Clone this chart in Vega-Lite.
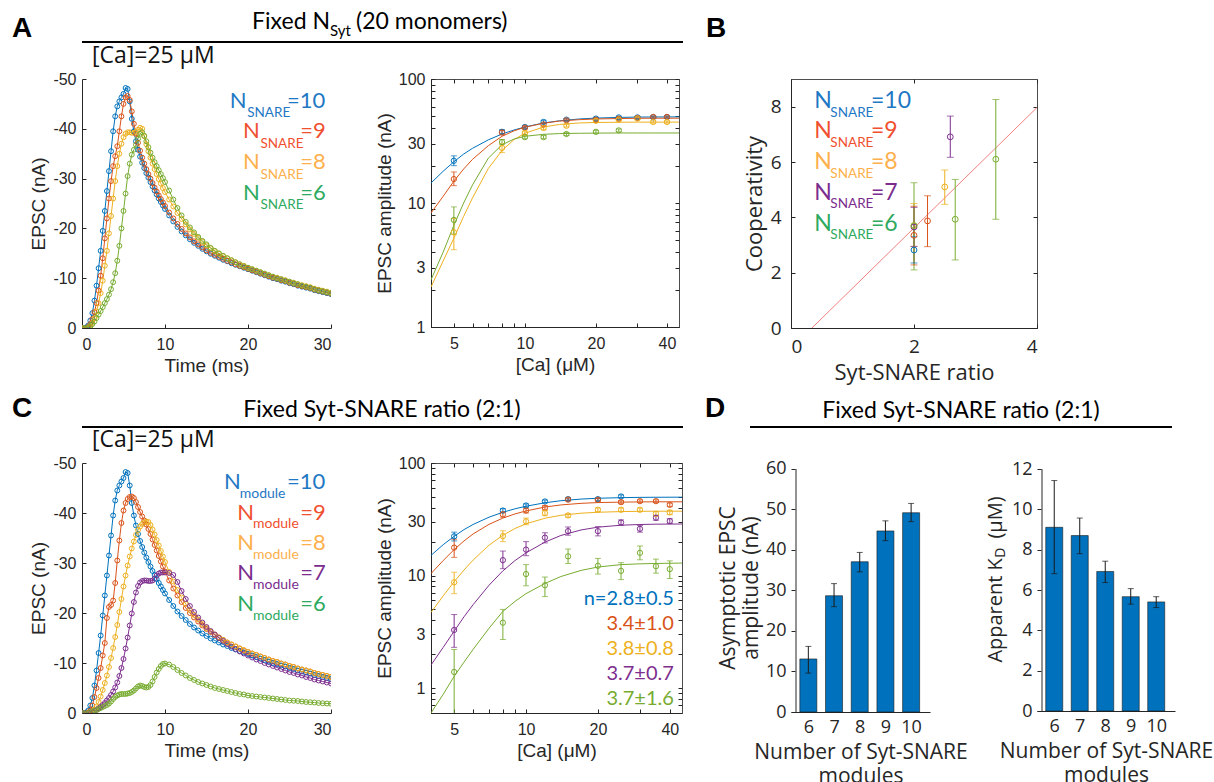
{
"$schema":"https://vega.github.io/schema/vega-lite/v6.json",
"background":"white",
"padding":{"left":12,"top":2,"right":0,"bottom":0},
"autosize":{"type":"pad"},
"config":{
"view":{"stroke":null},
"axis":{"grid":false,"domainColor":"#262626","tickColor":"#262626","labelColor":"#262626","titleColor":"#262626","labelFont":"Liberation Sans","titleFont":"Liberation Sans","labelFontSize":16,"titleFontSize":19,"titleFontWeight":"normal","tickSize":-4,"domainWidth":1,"tickWidth":1,"labelOverlap":false},
"axisX":{"labelPadding":12},
"axisY":{"labelPadding":10}
},
"datasets":{
"tA":[
{"t":0,"n10":0,"n9":0,"n8":0,"n6":0},
{"t":0.25,"n10":0,"n9":0,"n8":0,"n6":0},
{"t":0.5,"n10":-0.1,"n9":0,"n8":0,"n6":0},
{"t":0.75,"n10":-0.5,"n9":-0.2,"n8":0,"n6":-0.1},
{"t":1,"n10":-1.5,"n9":-0.8,"n8":-0.3,"n6":-0.4},
{"t":1.25,"n10":-3,"n9":-1.8,"n8":-1,"n6":-0.8},
{"t":1.5,"n10":-5.5,"n9":-3.2,"n8":-2,"n6":-1.3},
{"t":1.75,"n10":-8.5,"n9":-5,"n8":-3.3,"n6":-2},
{"t":2,"n10":-12,"n9":-7.5,"n8":-5,"n6":-2.7},
{"t":2.25,"n10":-15.5,"n9":-10.5,"n8":-7,"n6":-3.4},
{"t":2.5,"n10":-19.5,"n9":-14,"n8":-9.5,"n6":-4.2},
{"t":2.75,"n10":-23.5,"n9":-18,"n8":-12.5,"n6":-5},
{"t":3,"n10":-27.5,"n9":-22,"n8":-15.5,"n6":-5.8},
{"t":3.25,"n10":-31.5,"n9":-26,"n8":-19,"n6":-6.7},
{"t":3.5,"n10":-35.5,"n9":-29.5,"n8":-22.5,"n6":-7.8},
{"t":3.75,"n10":-39.5,"n9":-32.5,"n8":-26,"n6":-9.2},
{"t":4,"n10":-42.5,"n9":-34.5,"n8":-29.5,"n6":-11},
{"t":4.25,"n10":-44.5,"n9":-36.5,"n8":-32.5,"n6":-13.5},
{"t":4.5,"n10":-45.5,"n9":-39.5,"n8":-35,"n6":-16.5},
{"t":4.75,"n10":-46.3,"n9":-42.5,"n8":-37,"n6":-20},
{"t":5,"n10":-47,"n9":-45,"n8":-38.3,"n6":-23.5},
{"t":5.25,"n10":-48.2,"n9":-46.3,"n8":-39,"n6":-27},
{"t":5.5,"n10":-48,"n9":-46.6,"n8":-39.3,"n6":-30.5},
{"t":5.75,"n10":-45.5,"n9":-45.8,"n8":-39.3,"n6":-33},
{"t":6,"n10":-42,"n9":-43.5,"n8":-39.2,"n6":-34.8},
{"t":6.25,"n10":-39.5,"n9":-41,"n8":-39.2,"n6":-35.8},
{"t":6.5,"n10":-37.5,"n9":-39,"n8":-39.4,"n6":-36.8},
{"t":6.75,"n10":-35.8,"n9":-37.2,"n8":-39.8,"n6":-38},
{"t":7,"n10":-34.4,"n9":-35.6,"n8":-40.2,"n6":-39},
{"t":7.25,"n10":-33.2,"n9":-34.2,"n8":-40,"n6":-39.3},
{"t":7.5,"n10":-32.1,"n9":-33,"n8":-38.5,"n6":-38.6},
{"t":7.75,"n10":-31.1,"n9":-31.9,"n8":-36.9,"n6":-37.5},
{"t":8,"n10":-30.2,"n9":-30.9,"n8":-35.5,"n6":-36.3},
{"t":8.25,"n10":-29.3,"n9":-30,"n8":-34.2,"n6":-35.2},
{"t":8.5,"n10":-28.4,"n9":-29.1,"n8":-33,"n6":-34.2},
{"t":8.75,"n10":-27.6,"n9":-28.2,"n8":-31.9,"n6":-33.3},
{"t":9,"n10":-26.8,"n9":-27.4,"n8":-30.9,"n6":-32.5},
{"t":9.25,"n10":-26,"n9":-26.6,"n8":-29.9,"n6":-31.7},
{"t":9.5,"n10":-25.3,"n9":-25.9,"n8":-29,"n6":-30.9},
{"t":9.75,"n10":-24.6,"n9":-25.2,"n8":-28.1,"n6":-30.1},
{"t":10,"n10":-23.9,"n9":-24.5,"n8":-27.3,"n6":-29.3},
{"t":10.5,"n10":-22.6,"n9":-23.2,"n8":-25.8,"n6":-27.6},
{"t":11,"n10":-21.4,"n9":-22,"n8":-24.4,"n6":-25.8},
{"t":11.5,"n10":-20.3,"n9":-20.9,"n8":-23.1,"n6":-24.1},
{"t":12,"n10":-19.4,"n9":-19.9,"n8":-21.9,"n6":-22.6},
{"t":12.5,"n10":-18.6,"n9":-19,"n8":-20.8,"n6":-21.3},
{"t":13,"n10":-17.8,"n9":-18.2,"n8":-19.8,"n6":-20.2},
{"t":13.5,"n10":-17.1,"n9":-17.4,"n8":-18.9,"n6":-19.2},
{"t":14,"n10":-16.5,"n9":-16.8,"n8":-18.1,"n6":-18.3},
{"t":14.5,"n10":-15.9,"n9":-16.2,"n8":-17.3,"n6":-17.5},
{"t":15,"n10":-15.4,"n9":-15.6,"n8":-16.6,"n6":-16.8},
{"t":15.5,"n10":-14.9,"n9":-15.1,"n8":-16,"n6":-16.1},
{"t":16,"n10":-14.5,"n9":-14.7,"n8":-15.4,"n6":-15.5},
{"t":16.5,"n10":-14.1,"n9":-14.3,"n8":-14.9,"n6":-15},
{"t":17,"n10":-13.7,"n9":-13.9,"n8":-14.4,"n6":-14.5},
{"t":17.5,"n10":-13.4,"n9":-13.5,"n8":-14,"n6":-14},
{"t":18,"n10":-13,"n9":-13.2,"n8":-13.6,"n6":-13.6},
{"t":18.5,"n10":-12.7,"n9":-12.8,"n8":-13.2,"n6":-13.2},
{"t":19,"n10":-12.4,"n9":-12.5,"n8":-12.8,"n6":-12.8},
{"t":19.5,"n10":-12.1,"n9":-12.2,"n8":-12.5,"n6":-12.4},
{"t":20,"n10":-11.8,"n9":-11.9,"n8":-12.1,"n6":-12.1},
{"t":20.5,"n10":-11.5,"n9":-11.6,"n8":-11.8,"n6":-11.8},
{"t":21,"n10":-11.2,"n9":-11.3,"n8":-11.5,"n6":-11.5},
{"t":21.5,"n10":-10.9,"n9":-11,"n8":-11.2,"n6":-11.2},
{"t":22,"n10":-10.6,"n9":-10.7,"n8":-10.9,"n6":-10.9},
{"t":22.5,"n10":-10.3,"n9":-10.4,"n8":-10.6,"n6":-10.6},
{"t":23,"n10":-10,"n9":-10.1,"n8":-10.3,"n6":-10.3},
{"t":23.5,"n10":-9.8,"n9":-9.9,"n8":-10.1,"n6":-10},
{"t":24,"n10":-9.5,"n9":-9.6,"n8":-9.8,"n6":-9.8},
{"t":24.5,"n10":-9.3,"n9":-9.4,"n8":-9.6,"n6":-9.5},
{"t":25,"n10":-9,"n9":-9.1,"n8":-9.3,"n6":-9.3},
{"t":25.5,"n10":-8.8,"n9":-8.9,"n8":-9.1,"n6":-9},
{"t":26,"n10":-8.5,"n9":-8.6,"n8":-8.8,"n6":-8.8},
{"t":26.5,"n10":-8.3,"n9":-8.4,"n8":-8.6,"n6":-8.5},
{"t":27,"n10":-8.1,"n9":-8.2,"n8":-8.4,"n6":-8.3},
{"t":27.5,"n10":-7.9,"n9":-8,"n8":-8.2,"n6":-8.1},
{"t":28,"n10":-7.6,"n9":-7.7,"n8":-7.9,"n6":-7.8},
{"t":28.5,"n10":-7.4,"n9":-7.5,"n8":-7.7,"n6":-7.6},
{"t":29,"n10":-7.2,"n9":-7.3,"n8":-7.5,"n6":-7.4},
{"t":29.5,"n10":-7,"n9":-7.1,"n8":-7.3,"n6":-7.2},
{"t":30,"n10":-6.8,"n9":-6.9,"n8":-7.1,"n6":-7}
],
"tC":[
{"t":0,"n10":0,"n9":0,"n8":0,"n7":0,"n6":0},
{"t":0.25,"n10":0,"n9":0,"n8":0,"n7":0,"n6":0},
{"t":0.5,"n10":-0.1,"n9":0,"n8":0,"n7":0,"n6":0},
{"t":0.75,"n10":-0.5,"n9":-0.1,"n8":0,"n7":0,"n6":-0.05},
{"t":1,"n10":-1.5,"n9":-0.5,"n8":-0.1,"n7":-0.1,"n6":-0.2},
{"t":1.25,"n10":-3,"n9":-1.5,"n8":-0.3,"n7":-0.2,"n6":-0.3},
{"t":1.5,"n10":-5.5,"n9":-3.2,"n8":-0.7,"n7":-0.4,"n6":-0.5},
{"t":1.75,"n10":-8.5,"n9":-5,"n8":-1.3,"n7":-0.6,"n6":-0.6},
{"t":2,"n10":-12,"n9":-7,"n8":-2.2,"n7":-0.9,"n6":-0.8},
{"t":2.25,"n10":-15.5,"n9":-9,"n8":-3.3,"n7":-1.2,"n6":-1},
{"t":2.5,"n10":-19.5,"n9":-11.5,"n8":-4.6,"n7":-1.6,"n6":-1.2},
{"t":2.75,"n10":-23.5,"n9":-14,"n8":-6,"n7":-2,"n6":-1.4},
{"t":3,"n10":-27.5,"n9":-19,"n8":-7.5,"n7":-2.5,"n6":-1.6},
{"t":3.25,"n10":-31.5,"n9":-21.2,"n8":-9.2,"n7":-3,"n6":-1.9},
{"t":3.5,"n10":-35.5,"n9":-21.6,"n8":-11,"n7":-3.6,"n6":-2.3},
{"t":3.75,"n10":-39.5,"n9":-22.5,"n8":-13,"n7":-4.3,"n6":-2.8},
{"t":4,"n10":-42.5,"n9":-26,"n8":-15.2,"n7":-5.1,"n6":-3.2},
{"t":4.25,"n10":-44.5,"n9":-30.5,"n8":-17.6,"n7":-6.1,"n6":-3.5},
{"t":4.5,"n10":-45.5,"n9":-34.5,"n8":-20.2,"n7":-7.4,"n6":-3.7},
{"t":4.75,"n10":-46.3,"n9":-38,"n8":-22.8,"n7":-9,"n6":-3.8},
{"t":5,"n10":-47,"n9":-40.5,"n8":-25.3,"n7":-10.8,"n6":-3.8},
{"t":5.25,"n10":-48.2,"n9":-42,"n8":-27.5,"n7":-12.9,"n6":-3.8},
{"t":5.5,"n10":-48,"n9":-42.8,"n8":-29.5,"n7":-15.1,"n6":-3.9},
{"t":5.75,"n10":-45.5,"n9":-43.2,"n8":-31.3,"n7":-17.5,"n6":-4},
{"t":6,"n10":-42,"n9":-43.3,"n8":-32.9,"n7":-19.9,"n6":-4.2},
{"t":6.25,"n10":-39.5,"n9":-43,"n8":-34.3,"n7":-22.2,"n6":-4.5},
{"t":6.5,"n10":-37.5,"n9":-42.2,"n8":-35.6,"n7":-24.1,"n6":-4.9},
{"t":6.75,"n10":-35.8,"n9":-41.2,"n8":-36.6,"n7":-25.4,"n6":-5.3},
{"t":7,"n10":-34.4,"n9":-40.2,"n8":-37.3,"n7":-26.1,"n6":-5.5},
{"t":7.25,"n10":-33.2,"n9":-39.3,"n8":-37.8,"n7":-26.4,"n6":-5.4},
{"t":7.5,"n10":-32.1,"n9":-38.5,"n8":-38.1,"n7":-26.5,"n6":-5.2},
{"t":7.75,"n10":-31.1,"n9":-37.7,"n8":-38.3,"n7":-26.5,"n6":-5.1},
{"t":8,"n10":-30.2,"n9":-36.8,"n8":-38.2,"n7":-26.4,"n6":-5.2},
{"t":8.25,"n10":-29.3,"n9":-35.8,"n8":-37.6,"n7":-26.4,"n6":-5.6},
{"t":8.5,"n10":-28.4,"n9":-34.7,"n8":-36.7,"n7":-26.5,"n6":-6.3},
{"t":8.75,"n10":-27.6,"n9":-33.6,"n8":-35.7,"n7":-26.9,"n6":-7.2},
{"t":9,"n10":-26.8,"n9":-32.5,"n8":-34.6,"n7":-27.5,"n6":-8.1},
{"t":9.25,"n10":-26,"n9":-31.4,"n8":-33.5,"n7":-27.9,"n6":-8.8},
{"t":9.5,"n10":-25.3,"n9":-30.3,"n8":-32.4,"n7":-28.1,"n6":-9.4},
{"t":9.75,"n10":-24.6,"n9":-29.3,"n8":-31.3,"n7":-28.1,"n6":-9.8},
{"t":10,"n10":-23.9,"n9":-28.3,"n8":-30.2,"n7":-28.1,"n6":-9.9},
{"t":10.5,"n10":-22.6,"n9":-26.5,"n8":-28.2,"n7":-28,"n6":-9.7},
{"t":11,"n10":-21.4,"n9":-24.9,"n8":-26.3,"n7":-27.6,"n6":-9.2},
{"t":11.5,"n10":-20.3,"n9":-23.5,"n8":-24.6,"n7":-26.2,"n6":-8.6},
{"t":12,"n10":-19.4,"n9":-22.2,"n8":-23.1,"n7":-24.4,"n6":-8},
{"t":12.5,"n10":-18.6,"n9":-21,"n8":-21.8,"n7":-22.8,"n6":-7.5},
{"t":13,"n10":-17.8,"n9":-20,"n8":-20.6,"n7":-21.4,"n6":-7},
{"t":13.5,"n10":-17.1,"n9":-19.1,"n8":-19.6,"n7":-20.2,"n6":-6.6},
{"t":14,"n10":-16.5,"n9":-18.3,"n8":-18.7,"n7":-19.1,"n6":-6.2},
{"t":14.5,"n10":-15.9,"n9":-17.5,"n8":-17.8,"n7":-18.1,"n6":-5.9},
{"t":15,"n10":-15.4,"n9":-16.8,"n8":-17,"n7":-17.2,"n6":-5.6},
{"t":15.5,"n10":-14.9,"n9":-16.2,"n8":-16.3,"n7":-16.4,"n6":-5.3},
{"t":16,"n10":-14.5,"n9":-15.6,"n8":-15.7,"n7":-15.7,"n6":-5},
{"t":16.5,"n10":-14.1,"n9":-15.1,"n8":-15.1,"n7":-15,"n6":-4.8},
{"t":17,"n10":-13.7,"n9":-14.6,"n8":-14.6,"n7":-14.4,"n6":-4.6},
{"t":17.5,"n10":-13.4,"n9":-14.1,"n8":-14.1,"n7":-13.8,"n6":-4.4},
{"t":18,"n10":-13,"n9":-13.7,"n8":-13.7,"n7":-13.3,"n6":-4.2},
{"t":18.5,"n10":-12.7,"n9":-13.3,"n8":-13.3,"n7":-12.8,"n6":-4},
{"t":19,"n10":-12.4,"n9":-12.9,"n8":-12.9,"n7":-12.3,"n6":-3.8},
{"t":19.5,"n10":-12.1,"n9":-12.5,"n8":-12.6,"n7":-11.9,"n6":-3.7},
{"t":20,"n10":-11.8,"n9":-12.2,"n8":-12.2,"n7":-11.5,"n6":-3.5},
{"t":20.5,"n10":-11.5,"n9":-11.9,"n8":-11.9,"n7":-11.1,"n6":-3.4},
{"t":21,"n10":-11.2,"n9":-11.6,"n8":-11.6,"n7":-10.7,"n6":-3.3},
{"t":21.5,"n10":-10.9,"n9":-11.3,"n8":-11.3,"n7":-10.4,"n6":-3.2},
{"t":22,"n10":-10.6,"n9":-11,"n8":-11,"n7":-10,"n6":-3.1},
{"t":22.5,"n10":-10.3,"n9":-10.7,"n8":-10.7,"n7":-9.7,"n6":-3},
{"t":23,"n10":-10,"n9":-10.4,"n8":-10.4,"n7":-9.4,"n6":-2.9},
{"t":23.5,"n10":-9.8,"n9":-10.2,"n8":-10.2,"n7":-9.1,"n6":-2.8},
{"t":24,"n10":-9.5,"n9":-9.9,"n8":-9.9,"n7":-8.8,"n6":-2.7},
{"t":24.5,"n10":-9.3,"n9":-9.7,"n8":-9.7,"n7":-8.5,"n6":-2.6},
{"t":25,"n10":-9,"n9":-9.4,"n8":-9.4,"n7":-8.2,"n6":-2.5},
{"t":25.5,"n10":-8.8,"n9":-9.2,"n8":-9.2,"n7":-8,"n6":-2.45},
{"t":26,"n10":-8.5,"n9":-8.9,"n8":-8.9,"n7":-7.7,"n6":-2.4},
{"t":26.5,"n10":-8.3,"n9":-8.7,"n8":-8.7,"n7":-7.5,"n6":-2.3},
{"t":27,"n10":-8.1,"n9":-8.5,"n8":-8.5,"n7":-7.2,"n6":-2.2},
{"t":27.5,"n10":-7.9,"n9":-8.3,"n8":-8.3,"n7":-7,"n6":-2.15},
{"t":28,"n10":-7.6,"n9":-8,"n8":-8,"n7":-6.7,"n6":-2.1},
{"t":28.5,"n10":-7.4,"n9":-7.8,"n8":-7.8,"n7":-6.5,"n6":-2},
{"t":29,"n10":-7.2,"n9":-7.6,"n8":-7.6,"n7":-6.3,"n6":-1.95},
{"t":29.5,"n10":-7,"n9":-7.4,"n8":-7.4,"n7":-6.1,"n6":-1.9},
{"t":30,"n10":-6.8,"n9":-7.2,"n8":-7.2,"n7":-5.9,"n6":-1.85}
],
"fitA":[
{"c":4,"n10":14.5,"n9":8.3,"n8":2.1,"n6":2.4},
{"c":4.5,"n10":18,"n9":11.3,"n8":3.4,"n6":4},
{"c":5,"n10":21.5,"n9":15,"n8":5.2,"n6":6.6},
{"c":5.5,"n10":24.8,"n9":18.8,"n8":7.8,"n6":10},
{"c":6,"n10":27.6,"n9":22.5,"n8":11,"n6":14},
{"c":7,"n10":32.3,"n9":29,"n8":19,"n6":23},
{"c":8,"n10":36,"n9":34.5,"n8":26.5,"n6":29.5},
{"c":9,"n10":38.8,"n9":38.2,"n8":32.5,"n6":32.8},
{"c":10,"n10":41,"n9":40.8,"n8":36.5,"n6":34.5},
{"c":12,"n10":44.2,"n9":44,"n8":41,"n6":35.8},
{"c":14,"n10":46,"n9":45.8,"n8":43,"n6":36.3},
{"c":17,"n10":47.6,"n9":47,"n8":44.2,"n6":36.5},
{"c":20,"n10":48.4,"n9":47.6,"n8":44.6,"n6":36.6},
{"c":25,"n10":49,"n9":48,"n8":44.8,"n6":36.7},
{"c":30,"n10":49.3,"n9":48.2,"n8":44.9,"n6":36.7},
{"c":35,"n10":49.4,"n9":48.3,"n8":44.9,"n6":36.7},
{"c":45,"n10":49.5,"n9":48.3,"n8":44.9,"n6":36.7}
],
"fitC":[
{"c":4,"n10":15.1,"n9":10.4,"n8":4.7,"n7":1.6,"n6":0.6},
{"c":4.5,"n10":18.8,"n9":13.6,"n8":6.6,"n7":2.3,"n6":0.88},
{"c":5,"n10":22.3,"n9":17,"n8":8.8,"n7":3.2,"n6":1.27},
{"c":5.5,"n10":25.6,"n9":20.3,"n8":11.2,"n7":4.3,"n6":1.7},
{"c":6,"n10":28.4,"n9":23.4,"n8":13.7,"n7":5.5,"n6":2.2},
{"c":7,"n10":33,"n9":28.5,"n8":18.6,"n7":8.2,"n6":3.4},
{"c":8,"n10":36.5,"n9":32.4,"n8":22.8,"n7":11,"n6":4.8},
{"c":9,"n10":39.2,"n9":35.3,"n8":26.2,"n7":13.6,"n6":5.9},
{"c":10,"n10":41.3,"n9":37.5,"n8":28.8,"n7":15.9,"n6":6.9},
{"c":12,"n10":44.3,"n9":40.6,"n8":32.3,"n7":19.8,"n6":8.5},
{"c":14,"n10":46.2,"n9":42.4,"n8":34.3,"n7":22.7,"n6":9.8},
{"c":17,"n10":47.8,"n9":43.8,"n8":35.8,"n7":25.4,"n6":11.1},
{"c":20,"n10":48.6,"n9":44.5,"n8":36.5,"n7":26.9,"n6":11.9},
{"c":25,"n10":49.2,"n9":44.9,"n8":37,"n7":28,"n6":12.5},
{"c":30,"n10":49.5,"n9":45.1,"n8":37.2,"n7":28.4,"n6":12.7},
{"c":35,"n10":49.6,"n9":45.2,"n8":37.3,"n7":28.6,"n6":12.8},
{"c":45,"n10":49.7,"n9":45.2,"n8":37.3,"n7":28.7,"n6":12.9}
],
"ptA":[
{"c":5,"s":"n10","v":21.9,"lo":20,"hi":24},{"c":8,"s":"n10","v":37.5,"lo":36,"hi":39},{"c":10,"s":"n10","v":41,"lo":40,"hi":42},{"c":12,"s":"n10","v":45,"lo":44,"hi":46.5},{"c":15,"s":"n10","v":47,"lo":46,"hi":48},{"c":20,"s":"n10","v":47.9,"lo":47,"hi":49},{"c":25,"s":"n10","v":49,"lo":48,"hi":50},{"c":30,"s":"n10","v":49,"lo":48,"hi":50},{"c":35,"s":"n10","v":49.2,"lo":48.2,"hi":50.2},{"c":40,"s":"n10","v":49.4,"lo":48.4,"hi":50.4},
{"c":5,"s":"n9","v":15.6,"lo":13.8,"hi":17.8},{"c":8,"s":"n9","v":37,"lo":35.5,"hi":38.5},{"c":10,"s":"n9","v":40.5,"lo":39.5,"hi":41.5},{"c":12,"s":"n9","v":43,"lo":42,"hi":44},{"c":15,"s":"n9","v":46.4,"lo":45.5,"hi":47.5},{"c":20,"s":"n9","v":47,"lo":46,"hi":48},{"c":25,"s":"n9","v":47.8,"lo":47,"hi":48.8},{"c":30,"s":"n9","v":48.5,"lo":47.5,"hi":49.5},{"c":35,"s":"n9","v":49.4,"lo":48.4,"hi":50.4},{"c":40,"s":"n9","v":49.4,"lo":48.4,"hi":50.4},
{"c":5,"s":"n8","v":5.8,"lo":4.2,"hi":7.5},{"c":8,"s":"n8","v":27.8,"lo":25.5,"hi":30},{"c":10,"s":"n8","v":36.7,"lo":35.5,"hi":38},{"c":12,"s":"n8","v":40.3,"lo":39,"hi":41.5},{"c":15,"s":"n8","v":42,"lo":41,"hi":43},{"c":20,"s":"n8","v":46,"lo":45,"hi":47},{"c":25,"s":"n8","v":47,"lo":46,"hi":48},{"c":30,"s":"n8","v":48,"lo":47,"hi":49},{"c":35,"s":"n8","v":45,"lo":44,"hi":46},{"c":40,"s":"n8","v":45,"lo":44,"hi":46},
{"c":5,"s":"n6","v":7.3,"lo":5.6,"hi":9.3},{"c":8,"s":"n6","v":31,"lo":29.5,"hi":32.5},{"c":10,"s":"n6","v":34,"lo":33,"hi":35.2},{"c":12,"s":"n6","v":34,"lo":33,"hi":35},{"c":15,"s":"n6","v":36,"lo":35,"hi":37},{"c":20,"s":"n6","v":37.5,"lo":36.5,"hi":38.5},{"c":25,"s":"n6","v":38.5,"lo":37.5,"hi":39.5}
],
"ptC":[
{"c":5,"s":"n10","v":22.3,"lo":20.3,"hi":24.3},{"c":8,"s":"n10","v":37.8,"lo":36.3,"hi":39.3},{"c":10,"s":"n10","v":41.9,"lo":40.5,"hi":43.3},{"c":12,"s":"n10","v":45.5,"lo":44.3,"hi":46.8},{"c":15,"s":"n10","v":47.7,"lo":46.5,"hi":49},{"c":20,"s":"n10","v":47.7,"lo":46.5,"hi":49},{"c":25,"s":"n10","v":50.4,"lo":49,"hi":52},
{"c":5,"s":"n9","v":17.7,"lo":14.5,"hi":21},{"c":8,"s":"n9","v":34.9,"lo":33,"hi":36.8},{"c":10,"s":"n9","v":37.8,"lo":36,"hi":39.6},{"c":12,"s":"n9","v":40,"lo":38.3,"hi":41.8},{"c":15,"s":"n9","v":47.3,"lo":46,"hi":48.6},{"c":20,"s":"n9","v":47,"lo":45.8,"hi":48.3},{"c":25,"s":"n9","v":44.9,"lo":43.5,"hi":46.3},{"c":30,"s":"n9","v":45.8,"lo":44.5,"hi":47.1},{"c":35,"s":"n9","v":45.8,"lo":44.5,"hi":47.1},{"c":40,"s":"n9","v":42.5,"lo":41,"hi":44},
{"c":5,"s":"n8","v":8.7,"lo":6.9,"hi":10.7},{"c":8,"s":"n8","v":22.4,"lo":20,"hi":25},{"c":10,"s":"n8","v":30.3,"lo":28.3,"hi":32.4},{"c":12,"s":"n8","v":35.9,"lo":34,"hi":37.8},{"c":15,"s":"n8","v":34.2,"lo":33,"hi":35.4},{"c":20,"s":"n8","v":38.4,"lo":37,"hi":39.8},{"c":25,"s":"n8","v":38.4,"lo":37,"hi":39.8},{"c":30,"s":"n8","v":38.4,"lo":37,"hi":39.8},{"c":35,"s":"n8","v":35.4,"lo":33.8,"hi":37},{"c":40,"s":"n8","v":36.4,"lo":34.8,"hi":38},
{"c":5,"s":"n7","v":3.28,"lo":2.3,"hi":4.5},{"c":8,"s":"n7","v":13.7,"lo":11.5,"hi":16.5},{"c":10,"s":"n7","v":17,"lo":15,"hi":20},{"c":12,"s":"n7","v":21.7,"lo":19.5,"hi":24},{"c":15,"s":"n7","v":24.8,"lo":22.8,"hi":27},{"c":20,"s":"n7","v":24.8,"lo":22.5,"hi":27.2},{"c":25,"s":"n7","v":29.6,"lo":28,"hi":31.2},{"c":30,"s":"n7","v":26,"lo":24.3,"hi":27.8},{"c":35,"s":"n7","v":32.6,"lo":31,"hi":34.3},{"c":40,"s":"n7","v":30.5,"lo":29,"hi":32},
{"c":5,"s":"n6","v":1.39,"lo":0.5,"hi":2.2},{"c":8,"s":"n6","v":3.81,"lo":2.7,"hi":5},{"c":10,"s":"n6","v":10.3,"lo":8.1,"hi":12.5},{"c":12,"s":"n6","v":8.2,"lo":6.5,"hi":9.7},{"c":15,"s":"n6","v":14.8,"lo":12.8,"hi":17.2},{"c":20,"s":"n6","v":12.2,"lo":10.3,"hi":14.2},{"c":25,"s":"n6","v":11,"lo":9.2,"hi":13},{"c":30,"s":"n6","v":15.9,"lo":13.8,"hi":18.3},{"c":35,"s":"n6","v":12.1,"lo":10.5,"hi":14},{"c":40,"s":"n6","v":11.4,"lo":9.4,"hi":13.5}
],
"labC":[
{"c":41.6,"v":5.43,"txt":"n=2.8±0.5","s":"n10"},
{"c":41.6,"v":3.26,"txt":"3.4±1.0","s":"n9"},
{"c":41.6,"v":1.96,"txt":"3.8±0.8","s":"n8"},
{"c":41.6,"v":1.18,"txt":"3.7±0.7","s":"n7"},
{"c":41.6,"v":0.7,"txt":"3.7±1.6","s":"n6"}
],
"legA":[
{"t":17.8,"v":-44.2,"txt":"N","s":"L10","k":"b"},{"t":19.9,"v":-42.4,"txt":"SNARE","s":"L10","k":"s"},{"t":24.7,"v":-44.2,"txt":"=10","s":"L10","k":"b"},
{"t":19.4,"v":-38.1,"txt":"N","s":"L9","k":"b"},{"t":21.5,"v":-36.1,"txt":"SNARE","s":"L9","k":"s"},{"t":26.3,"v":-38.1,"txt":"=9","s":"L9","k":"b"},
{"t":19.4,"v":-31.9,"txt":"N","s":"L8","k":"b"},{"t":21.5,"v":-29.9,"txt":"SNARE","s":"L8","k":"s"},{"t":26.3,"v":-31.9,"txt":"=8","s":"L8","k":"b"},
{"t":19.4,"v":-25.7,"txt":"N","s":"L6","k":"b"},{"t":21.5,"v":-23.8,"txt":"SNARE","s":"L6","k":"s"},{"t":26.3,"v":-25.7,"txt":"=6","s":"L6","k":"b"}
],
"legC":[
{"t":17.1,"v":-44.8,"txt":"N","s":"L10","k":"b"},{"t":19.0,"v":-43.1,"txt":"module","s":"L10","k":"s"},{"t":24.7,"v":-44.8,"txt":"=10","s":"L10","k":"b"},
{"t":18.7,"v":-38.7,"txt":"N","s":"L9","k":"b"},{"t":20.6,"v":-37.1,"txt":"module","s":"L9","k":"s"},{"t":26.3,"v":-38.7,"txt":"=9","s":"L9","k":"b"},
{"t":18.7,"v":-32.6,"txt":"N","s":"L8","k":"b"},{"t":20.6,"v":-30.9,"txt":"module","s":"L8","k":"s"},{"t":26.3,"v":-32.6,"txt":"=8","s":"L8","k":"b"},
{"t":18.7,"v":-26.6,"txt":"N","s":"L7","k":"b"},{"t":20.6,"v":-24.8,"txt":"module","s":"L7","k":"s"},{"t":26.3,"v":-26.6,"txt":"=7","s":"L7","k":"b"},
{"t":18.7,"v":-20.5,"txt":"N","s":"L6","k":"b"},{"t":20.6,"v":-18.7,"txt":"module","s":"L6","k":"s"},{"t":26.3,"v":-20.5,"txt":"=6","s":"L6","k":"b"}
],
"legB":[
{"r":0.38,"v":7.94,"txt":"N","s":"L10","k":"b"},{"r":0.64,"v":7.64,"txt":"SNARE","s":"L10","k":"s"},{"r":1.3,"v":7.94,"txt":"=10","s":"L10","k":"b"},
{"r":0.38,"v":6.86,"txt":"N","s":"L9","k":"b"},{"r":0.64,"v":6.55,"txt":"SNARE","s":"L9","k":"s"},{"r":1.3,"v":6.86,"txt":"=9","s":"L9","k":"b"},
{"r":0.38,"v":5.74,"txt":"N","s":"L8","k":"b"},{"r":0.64,"v":5.43,"txt":"SNARE","s":"L8","k":"s"},{"r":1.3,"v":5.74,"txt":"=8","s":"L8","k":"b"},
{"r":0.38,"v":4.63,"txt":"N","s":"L7","k":"b"},{"r":0.64,"v":4.33,"txt":"SNARE","s":"L7","k":"s"},{"r":1.3,"v":4.63,"txt":"=7","s":"L7","k":"b"},
{"r":0.38,"v":3.52,"txt":"N","s":"L6","k":"b"},{"r":0.64,"v":3.22,"txt":"SNARE","s":"L6","k":"s"},{"r":1.3,"v":3.52,"txt":"=6","s":"L6","k":"b"}
],
"ptB":[
{"r":2,"v":2.82,"lo":2.35,"hi":3.3,"s":"n10"},{"r":2,"v":3.35,"lo":2.28,"hi":4.4,"s":"n9"},{"r":2,"v":3.7,"lo":2.95,"hi":4.5,"s":"n8"},{"r":2,"v":3.65,"lo":2.95,"hi":4.36,"s":"n7"},{"r":2,"v":3.7,"lo":2.1,"hi":5.25,"s":"n6"},{"r":2.22,"v":3.87,"lo":2.94,"hi":4.78,"s":"n9"},{"r":2.5,"v":5.1,"lo":4.47,"hi":5.71,"s":"n8"},{"r":2.59,"v":6.91,"lo":6.17,"hi":7.66,"s":"n7"},{"r":2.67,"v":3.93,"lo":2.46,"hi":5.37,"s":"n6"},{"r":3.33,"v":6.1,"lo":3.93,"hi":8.26,"s":"n6"}
],
"lineB":[{"r":0.34,"v":0},{"r":4,"v":7.97}],
"barD":[
{"n":6,"amp":13.1,"alo":9.6,"ahi":16.2,"kd":9.11,"klo":6.81,"khi":11.43},
{"n":7,"amp":28.7,"alo":26,"ahi":31.7,"kd":8.7,"klo":7.8,"khi":9.57},
{"n":8,"amp":37.1,"alo":34.6,"ahi":39.4,"kd":6.92,"klo":6.37,"khi":7.43},
{"n":9,"amp":44.7,"alo":42.3,"ahi":47.2,"kd":5.67,"klo":5.3,"khi":6.07},
{"n":10,"amp":49.2,"alo":47,"ahi":51.5,"kd":5.41,"klo":5.13,"khi":5.67}
]
},
"columns":6,
"spacing":0,
"bounds":"flush",
"align":"each",
"concat":[
{"width":249,"height":77,
 "layer":[
  {"data":{"values":[{"x":0,"x2":601,"y":0}]},"mark":{"type":"rule","color":"black","strokeWidth":2},
   "encoding":{"x":{"field":"x","type":"quantitative","scale":{"domain":[0,249],"nice":false,"zero":false},"axis":null},"x2":{"field":"x2"},"y":{"field":"y","type":"quantitative","scale":{"domain":[-37,40],"nice":false,"zero":false},"axis":null}}},
  {"data":{"values":[{"x":248,"y":13,"txt":"Fixed N"}]},"mark":{"type":"text","align":"right","baseline":"alphabetic","font":"Lato","fontSize":23,"color":"black"},
   "encoding":{"x":{"field":"x","type":"quantitative"},"y":{"field":"y","type":"quantitative"},"text":{"field":"txt"}}},
  {"data":{"values":[{"x":248,"y":6,"txt":"Syt"}]},"mark":{"type":"text","align":"left","baseline":"alphabetic","font":"Lato","fontSize":15,"color":"black"},
   "encoding":{"x":{"field":"x","type":"quantitative"},"y":{"field":"y","type":"quantitative"},"text":{"field":"txt"}}},
  {"data":{"values":[{"x":274,"y":13,"txt":"(20 monomers)"}]},"mark":{"type":"text","align":"left","baseline":"alphabetic","font":"Lato","fontSize":23,"color":"black"},
   "encoding":{"x":{"field":"x","type":"quantitative"},"y":{"field":"y","type":"quantitative"},"text":{"field":"txt"}}},
  {"data":{"values":[{"x":-70,"y":5,"txt":"A"}]},"mark":{"type":"text","align":"left","baseline":"alphabetic","font":"Liberation Sans","fontWeight":"bold","fontSize":28,"color":"black"},
   "encoding":{"x":{"field":"x","type":"quantitative"},"y":{"field":"y","type":"quantitative"},"text":{"field":"txt"}}}
 ]},
{"width":1,"height":1,"data":{"values":[]},"mark":"point"},
{"width":1,"height":1,"data":{"values":[]},"mark":"point"},
{"width":1,"height":1,"data":{"values":[]},"mark":"point"},
{"width":1,"height":77,
 "data":{"values":[{"x":-85,"y":5,"txt":"B"}]},
 "mark":{"type":"text","align":"left","baseline":"alphabetic","font":"Liberation Sans","fontWeight":"bold","fontSize":28,"color":"black"},
 "encoding":{"x":{"field":"x","type":"quantitative","scale":{"domain":[0,1],"nice":false,"zero":false},"axis":null},"y":{"field":"y","type":"quantitative","scale":{"domain":[-37,40],"nice":false,"zero":false},"axis":null},"text":{"field":"txt"}}},
{"width":1,"height":1,"data":{"values":[]},"mark":"point"},

{"width":249,"height":249,
 "title":{"text":"[Ca]=25 μM","anchor":"start","frame":"group","dx":10,"offset":3,"font":"Open Sans","fontSize":23,"fontWeight":"normal","color":"#111111"},
 "layer":[
  {"data":{"name":"tA"},"transform":[{"fold":["n10","n9","n8","n6"],"as":["s","v"]}],
   "mark":{"type":"line","strokeWidth":1,"clip":true},
   "encoding":{
    "x":{"field":"t","type":"quantitative","scale":{"domain":[0,30],"nice":false,"zero":false},"axis":{"values":[0,10,20,30],"title":"Time (ms)"}},
    "y":{"field":"v","type":"quantitative","scale":{"domain":[-50,0],"reverse":true,"nice":false,"zero":false},"axis":{"values":[-50,-40,-30,-20,-10,0],"title":"EPSC (nA)","labelExpr":"replace(datum.label,'\u2212','-')"}},
    "color":{"field":"s","type":"nominal","scale":{"domain":["n10","n9","n8","n7","n6","L10","L9","L8","L7","L6"],"range":["#0072BD","#D95319","#EDB120","#7E2F8E","#77AC30","#1F78C4","#F05030","#FDB04B","#7B2D8E","#2EAA60"]},"legend":null}}},
  {"data":{"name":"tA"},"transform":[{"fold":["n10","n9","n8","n6"],"as":["s","v"]}],
   "mark":{"type":"point","shape":"circle","filled":false,"size":24,"strokeWidth":1,"opacity":1,"clip":true},
   "encoding":{"x":{"field":"t","type":"quantitative"},"y":{"field":"v","type":"quantitative"},
    "color":{"field":"s","type":"nominal","scale":{"domain":["n10","n9","n8","n7","n6","L10","L9","L8","L7","L6"],"range":["#0072BD","#D95319","#EDB120","#7E2F8E","#77AC30","#1F78C4","#F05030","#FDB04B","#7B2D8E","#2EAA60"]},"legend":null}}},
  {"data":{"name":"legA"},"transform":[{"filter":"datum.k=='b'"}],
   "mark":{"type":"text","align":"left","baseline":"alphabetic","font":"Lato","fontSize":22},
   "encoding":{"x":{"field":"t","type":"quantitative"},"y":{"field":"v","type":"quantitative"},"text":{"field":"txt"},
    "color":{"field":"s","type":"nominal","scale":{"domain":["n10","n9","n8","n7","n6","L10","L9","L8","L7","L6"],"range":["#0072BD","#D95319","#EDB120","#7E2F8E","#77AC30","#1F78C4","#F05030","#FDB04B","#7B2D8E","#2EAA60"]},"legend":null}}},
  {"data":{"name":"legA"},"transform":[{"filter":"datum.k=='s'"}],
   "mark":{"type":"text","align":"left","baseline":"alphabetic","font":"Lato","fontSize":13.5},
   "encoding":{"x":{"field":"t","type":"quantitative"},"y":{"field":"v","type":"quantitative"},"text":{"field":"txt"},
    "color":{"field":"s","type":"nominal","scale":{"domain":["n10","n9","n8","n7","n6","L10","L9","L8","L7","L6"],"range":["#0072BD","#D95319","#EDB120","#7E2F8E","#77AC30","#1F78C4","#F05030","#FDB04B","#7B2D8E","#2EAA60"]},"legend":null}}}
 ]},
{"width":100,"height":1,"data":{"values":[]},"mark":"point"},
{"width":248,"height":248,"view":{"stroke":"#4d4d4d","strokeWidth":1},
 "resolve":{"axis":{"x":"independent","y":"independent"}},
 "layer":[
  {"data":{"name":"fitA"},"transform":[{"fold":["n10","n9","n8","n6"],"as":["s","v"]}],
   "mark":{"type":"line","strokeWidth":1,"clip":true},
   "encoding":{
    "x":{"field":"c","type":"quantitative","scale":{"type":"log","domain":[4,45],"nice":false},"axis":{"orient":"bottom","values":[4,5,6,7,8,9,10,20,30,40],"labelExpr":"(datum.value==5||datum.value==10||datum.value==20||datum.value==40) ? format(datum.value,'d') : ''","title":"[Ca] (μM)"}},
    "y":{"field":"v","type":"quantitative","scale":{"type":"log","domain":[1,100],"nice":false},"axis":{"orient":"left","values":[1,2,3,4,5,6,7,8,9,10,20,30,40,50,60,70,80,90,100],"labelExpr":"(datum.value==1||datum.value==3||datum.value==10||datum.value==30||datum.value==100) ? format(datum.value,'d') : ''","title":"EPSC amplitude (nA)"}},
    "color":{"field":"s","type":"nominal","scale":{"domain":["n10","n9","n8","n7","n6","L10","L9","L8","L7","L6"],"range":["#0072BD","#D95319","#EDB120","#7E2F8E","#77AC30","#1F78C4","#F05030","#FDB04B","#7B2D8E","#2EAA60"]},"legend":null}}},
  {"data":{"name":"ptA"},"mark":{"type":"rule","strokeWidth":1,"clip":true},
   "encoding":{"x":{"field":"c","type":"quantitative","axis":{"orient":"top","labels":false,"title":null,"domain":false,"values":[4,5,6,7,8,9,10,20,30,40]}},"y":{"field":"lo","type":"quantitative","axis":{"orient":"right","labels":false,"title":null,"domain":false,"values":[1,2,3,4,5,6,7,8,9,10,20,30,40,50,60,70,80,90,100]}},"y2":{"field":"hi"},
    "color":{"field":"s","type":"nominal","scale":{"domain":["n10","n9","n8","n7","n6","L10","L9","L8","L7","L6"],"range":["#0072BD","#D95319","#EDB120","#7E2F8E","#77AC30","#1F78C4","#F05030","#FDB04B","#7B2D8E","#2EAA60"]},"legend":null}}},
  {"data":{"name":"ptA"},"mark":{"type":"tick","orient":"horizontal","size":6,"thickness":1,"clip":true},
   "encoding":{"x":{"field":"c","type":"quantitative","axis":null},"y":{"field":"lo","type":"quantitative","axis":null},
    "color":{"field":"s","type":"nominal","scale":{"domain":["n10","n9","n8","n7","n6","L10","L9","L8","L7","L6"],"range":["#0072BD","#D95319","#EDB120","#7E2F8E","#77AC30","#1F78C4","#F05030","#FDB04B","#7B2D8E","#2EAA60"]},"legend":null}}},
  {"data":{"name":"ptA"},"mark":{"type":"tick","orient":"horizontal","size":6,"thickness":1,"clip":true},
   "encoding":{"x":{"field":"c","type":"quantitative","axis":null},"y":{"field":"hi","type":"quantitative","axis":null},
    "color":{"field":"s","type":"nominal","scale":{"domain":["n10","n9","n8","n7","n6","L10","L9","L8","L7","L6"],"range":["#0072BD","#D95319","#EDB120","#7E2F8E","#77AC30","#1F78C4","#F05030","#FDB04B","#7B2D8E","#2EAA60"]},"legend":null}}},
  {"data":{"name":"ptA"},"mark":{"type":"point","shape":"circle","filled":false,"size":28,"strokeWidth":1,"opacity":1,"clip":true},
   "encoding":{"x":{"field":"c","type":"quantitative","axis":null},"y":{"field":"v","type":"quantitative","axis":null},
    "color":{"field":"s","type":"nominal","scale":{"domain":["n10","n9","n8","n7","n6","L10","L9","L8","L7","L6"],"range":["#0072BD","#D95319","#EDB120","#7E2F8E","#77AC30","#1F78C4","#F05030","#FDB04B","#7B2D8E","#2EAA60"]},"legend":null}}}
 ]},
{"width":109,"height":1,"data":{"values":[]},"mark":"point"},
{"width":246,"height":249,"view":{"stroke":"#4d4d4d","strokeWidth":1},
 "resolve":{"axis":{"x":"independent","y":"independent"}},
 "layer":[
  {"data":{"name":"lineB"},"mark":{"type":"line","color":"#F08080","strokeWidth":1,"clip":true},
   "encoding":{
    "x":{"field":"r","type":"quantitative","scale":{"domain":[0,4],"nice":false,"zero":false},"axis":{"orient":"bottom","values":[0,2,4],"format":"d","title":"Syt-SNARE ratio","labelFont":"Open Sans","titleFont":"Open Sans","labelFontSize":19,"titleFontSize":22,"labelPadding":13,"titlePadding":6}},
    "y":{"field":"v","type":"quantitative","scale":{"domain":[0,9],"nice":false,"zero":false},"axis":{"orient":"left","values":[0,2,4,6,8],"format":"d","title":"Cooperativity","labelFont":"Open Sans","titleFont":"Open Sans","labelFontSize":19,"titleFontSize":22,"labelPadding":14}}}},
  {"data":{"name":"ptB"},"mark":{"type":"rule","strokeWidth":1},
   "encoding":{"x":{"field":"r","type":"quantitative","axis":{"orient":"top","labels":false,"title":null,"domain":false,"values":[0,2,4]}},"y":{"field":"lo","type":"quantitative","axis":{"orient":"right","labels":false,"title":null,"domain":false,"values":[0,2,4,6,8]}},"y2":{"field":"hi"},
    "color":{"field":"s","type":"nominal","scale":{"domain":["n10","n9","n8","n7","n6","L10","L9","L8","L7","L6"],"range":["#0072BD","#D95319","#EDB120","#7E2F8E","#77AC30","#1F78C4","#F05030","#FDB04B","#7B2D8E","#2EAA60"]},"legend":null}}},
  {"data":{"name":"ptB"},"mark":{"type":"tick","orient":"horizontal","size":7,"thickness":1},
   "encoding":{"x":{"field":"r","type":"quantitative","axis":null},"y":{"field":"lo","type":"quantitative","axis":null},
    "color":{"field":"s","type":"nominal","scale":{"domain":["n10","n9","n8","n7","n6","L10","L9","L8","L7","L6"],"range":["#0072BD","#D95319","#EDB120","#7E2F8E","#77AC30","#1F78C4","#F05030","#FDB04B","#7B2D8E","#2EAA60"]},"legend":null}}},
  {"data":{"name":"ptB"},"mark":{"type":"tick","orient":"horizontal","size":7,"thickness":1},
   "encoding":{"x":{"field":"r","type":"quantitative","axis":null},"y":{"field":"hi","type":"quantitative","axis":null},
    "color":{"field":"s","type":"nominal","scale":{"domain":["n10","n9","n8","n7","n6","L10","L9","L8","L7","L6"],"range":["#0072BD","#D95319","#EDB120","#7E2F8E","#77AC30","#1F78C4","#F05030","#FDB04B","#7B2D8E","#2EAA60"]},"legend":null}}},
  {"data":{"name":"ptB"},"mark":{"type":"point","shape":"circle","filled":false,"size":34,"strokeWidth":1,"opacity":1},
   "encoding":{"x":{"field":"r","type":"quantitative","axis":null},"y":{"field":"v","type":"quantitative","axis":null},
    "color":{"field":"s","type":"nominal","scale":{"domain":["n10","n9","n8","n7","n6","L10","L9","L8","L7","L6"],"range":["#0072BD","#D95319","#EDB120","#7E2F8E","#77AC30","#1F78C4","#F05030","#FDB04B","#7B2D8E","#2EAA60"]},"legend":null}}},
  {"data":{"name":"legB"},"transform":[{"filter":"datum.k=='b'"}],
   "mark":{"type":"text","align":"left","baseline":"alphabetic","font":"Lato","fontSize":23},
   "encoding":{"x":{"field":"r","type":"quantitative","axis":null},"y":{"field":"v","type":"quantitative","axis":null},"text":{"field":"txt"},
    "color":{"field":"s","type":"nominal","scale":{"domain":["n10","n9","n8","n7","n6","L10","L9","L8","L7","L6"],"range":["#0072BD","#D95319","#EDB120","#7E2F8E","#77AC30","#1F78C4","#F05030","#FDB04B","#7B2D8E","#2EAA60"]},"legend":null}}},
  {"data":{"name":"legB"},"transform":[{"filter":"datum.k=='s'"}],
   "mark":{"type":"text","align":"left","baseline":"alphabetic","font":"Lato","fontSize":13.5},
   "encoding":{"x":{"field":"r","type":"quantitative","axis":null},"y":{"field":"v","type":"quantitative","axis":null},"text":{"field":"txt"},
    "color":{"field":"s","type":"nominal","scale":{"domain":["n10","n9","n8","n7","n6","L10","L9","L8","L7","L6"],"range":["#0072BD","#D95319","#EDB120","#7E2F8E","#77AC30","#1F78C4","#F05030","#FDB04B","#7B2D8E","#2EAA60"]},"legend":null}}}
 ]},
{"width":1,"height":1,"data":{"values":[]},"mark":"point"},

{"width":249,"height":135,
 "layer":[
  {"data":{"values":[{"x":0,"x2":601,"y":0}]},"mark":{"type":"rule","color":"black","strokeWidth":2},
   "encoding":{"x":{"field":"x","type":"quantitative","scale":{"domain":[0,249],"nice":false,"zero":false},"axis":null},"x2":{"field":"x2"},"y":{"field":"y","type":"quantitative","scale":{"domain":[-36,99],"nice":false,"zero":false},"axis":null}}},
  {"data":{"values":[{"x":300,"y":10,"txt":"Fixed Syt-SNARE ratio (2:1)"}]},"mark":{"type":"text","align":"center","baseline":"alphabetic","font":"Lato","fontSize":23,"color":"black"},
   "encoding":{"x":{"field":"x","type":"quantitative"},"y":{"field":"y","type":"quantitative"},"text":{"field":"txt"}}},
  {"data":{"values":[{"x":-70,"y":10,"txt":"C"}]},"mark":{"type":"text","align":"left","baseline":"alphabetic","font":"Liberation Sans","fontWeight":"bold","fontSize":28,"color":"black"},
   "encoding":{"x":{"field":"x","type":"quantitative"},"y":{"field":"y","type":"quantitative"},"text":{"field":"txt"}}}
 ]},
{"width":1,"height":1,"data":{"values":[]},"mark":"point"},
{"width":1,"height":1,"data":{"values":[]},"mark":"point"},
{"width":1,"height":1,"data":{"values":[]},"mark":"point"},
{"width":139,"height":135,
 "layer":[
  {"data":{"values":[{"x":-41,"x2":381,"y":0}]},"mark":{"type":"rule","color":"black","strokeWidth":2},
   "encoding":{"x":{"field":"x","type":"quantitative","scale":{"domain":[0,139],"nice":false,"zero":false},"axis":null},"x2":{"field":"x2"},"y":{"field":"y","type":"quantitative","scale":{"domain":[-36,99],"nice":false,"zero":false},"axis":null}}},
  {"data":{"values":[{"x":170,"y":9,"txt":"Fixed Syt-SNARE ratio (2:1)"}]},"mark":{"type":"text","align":"center","baseline":"alphabetic","font":"Lato","fontSize":23,"color":"black"},
   "encoding":{"x":{"field":"x","type":"quantitative"},"y":{"field":"y","type":"quantitative"},"text":{"field":"txt"}}},
  {"data":{"values":[{"x":-86,"y":10,"txt":"D"}]},"mark":{"type":"text","align":"left","baseline":"alphabetic","font":"Liberation Sans","fontWeight":"bold","fontSize":28,"color":"black"},
   "encoding":{"x":{"field":"x","type":"quantitative"},"y":{"field":"y","type":"quantitative"},"text":{"field":"txt"}}}
 ]},
{"width":1,"height":1,"data":{"values":[]},"mark":"point"},

{"width":249,"height":250,
 "title":{"text":"[Ca]=25 μM","anchor":"start","frame":"group","dx":10,"offset":3,"font":"Open Sans","fontSize":23,"fontWeight":"normal","color":"#111111"},
 "layer":[
  {"data":{"name":"tC"},"transform":[{"fold":["n10","n9","n8","n7","n6"],"as":["s","v"]}],
   "mark":{"type":"line","strokeWidth":1,"clip":true},
   "encoding":{
    "x":{"field":"t","type":"quantitative","scale":{"domain":[0,30],"nice":false,"zero":false},"axis":{"values":[0,10,20,30],"title":"Time (ms)"}},
    "y":{"field":"v","type":"quantitative","scale":{"domain":[-50,0],"reverse":true,"nice":false,"zero":false},"axis":{"values":[-50,-40,-30,-20,-10,0],"title":"EPSC (nA)","labelExpr":"replace(datum.label,'\u2212','-')"}},
    "color":{"field":"s","type":"nominal","scale":{"domain":["n10","n9","n8","n7","n6","L10","L9","L8","L7","L6"],"range":["#0072BD","#D95319","#EDB120","#7E2F8E","#77AC30","#1F78C4","#F05030","#FDB04B","#7B2D8E","#2EAA60"]},"legend":null}}},
  {"data":{"name":"tC"},"transform":[{"fold":["n10","n9","n8","n7","n6"],"as":["s","v"]}],
   "mark":{"type":"point","shape":"circle","filled":false,"size":24,"strokeWidth":1,"opacity":1,"clip":true},
   "encoding":{"x":{"field":"t","type":"quantitative"},"y":{"field":"v","type":"quantitative"},
    "color":{"field":"s","type":"nominal","scale":{"domain":["n10","n9","n8","n7","n6","L10","L9","L8","L7","L6"],"range":["#0072BD","#D95319","#EDB120","#7E2F8E","#77AC30","#1F78C4","#F05030","#FDB04B","#7B2D8E","#2EAA60"]},"legend":null}}},
  {"data":{"name":"legC"},"transform":[{"filter":"datum.k=='b'"}],
   "mark":{"type":"text","align":"left","baseline":"alphabetic","font":"Lato","fontSize":22},
   "encoding":{"x":{"field":"t","type":"quantitative"},"y":{"field":"v","type":"quantitative"},"text":{"field":"txt"},
    "color":{"field":"s","type":"nominal","scale":{"domain":["n10","n9","n8","n7","n6","L10","L9","L8","L7","L6"],"range":["#0072BD","#D95319","#EDB120","#7E2F8E","#77AC30","#1F78C4","#F05030","#FDB04B","#7B2D8E","#2EAA60"]},"legend":null}}},
  {"data":{"name":"legC"},"transform":[{"filter":"datum.k=='s'"}],
   "mark":{"type":"text","align":"left","baseline":"alphabetic","font":"Lato","fontSize":14},
   "encoding":{"x":{"field":"t","type":"quantitative"},"y":{"field":"v","type":"quantitative"},"text":{"field":"txt"},
    "color":{"field":"s","type":"nominal","scale":{"domain":["n10","n9","n8","n7","n6","L10","L9","L8","L7","L6"],"range":["#0072BD","#D95319","#EDB120","#7E2F8E","#77AC30","#1F78C4","#F05030","#FDB04B","#7B2D8E","#2EAA60"]},"legend":null}}}
 ]},
{"width":100,"height":1,"data":{"values":[]},"mark":"point"},
{"width":251,"height":250,"view":{"stroke":"#4d4d4d","strokeWidth":1},
 "resolve":{"axis":{"x":"independent","y":"independent"}},
 "layer":[
  {"data":{"name":"fitC"},"transform":[{"fold":["n10","n9","n8","n7","n6"],"as":["s","v"]}],
   "mark":{"type":"line","strokeWidth":1,"clip":true},
   "encoding":{
    "x":{"field":"c","type":"quantitative","scale":{"type":"log","domain":[4,45],"nice":false},"axis":{"orient":"bottom","values":[4,5,6,7,8,9,10,20,30,40],"labelExpr":"(datum.value==5||datum.value==10||datum.value==20||datum.value==40) ? format(datum.value,'d') : ''","title":"[Ca] (μM)"}},
    "y":{"field":"v","type":"quantitative","scale":{"type":"log","domain":[0.6,100],"nice":false},"axis":{"orient":"left","values":[0.7,0.8,0.9,1,2,3,4,5,6,7,8,9,10,20,30,40,50,60,70,80,90,100],"labelExpr":"(datum.value==1||datum.value==3||datum.value==10||datum.value==30||datum.value==100) ? format(datum.value,'d') : ''","title":"EPSC amplitude (nA)"}},
    "color":{"field":"s","type":"nominal","scale":{"domain":["n10","n9","n8","n7","n6","L10","L9","L8","L7","L6"],"range":["#0072BD","#D95319","#EDB120","#7E2F8E","#77AC30","#1F78C4","#F05030","#FDB04B","#7B2D8E","#2EAA60"]},"legend":null}}},
  {"data":{"name":"ptC"},"mark":{"type":"rule","strokeWidth":1,"clip":true},
   "encoding":{"x":{"field":"c","type":"quantitative","axis":{"orient":"top","labels":false,"title":null,"domain":false,"values":[4,5,6,7,8,9,10,20,30,40]}},"y":{"field":"lo","type":"quantitative","axis":{"orient":"right","labels":false,"title":null,"domain":false,"values":[0.7,0.8,0.9,1,2,3,4,5,6,7,8,9,10,20,30,40,50,60,70,80,90,100]}},"y2":{"field":"hi"},
    "color":{"field":"s","type":"nominal","scale":{"domain":["n10","n9","n8","n7","n6","L10","L9","L8","L7","L6"],"range":["#0072BD","#D95319","#EDB120","#7E2F8E","#77AC30","#1F78C4","#F05030","#FDB04B","#7B2D8E","#2EAA60"]},"legend":null}}},
  {"data":{"name":"ptC"},"mark":{"type":"tick","orient":"horizontal","size":6,"thickness":1,"clip":true},
   "encoding":{"x":{"field":"c","type":"quantitative","axis":null},"y":{"field":"lo","type":"quantitative","axis":null},
    "color":{"field":"s","type":"nominal","scale":{"domain":["n10","n9","n8","n7","n6","L10","L9","L8","L7","L6"],"range":["#0072BD","#D95319","#EDB120","#7E2F8E","#77AC30","#1F78C4","#F05030","#FDB04B","#7B2D8E","#2EAA60"]},"legend":null}}},
  {"data":{"name":"ptC"},"mark":{"type":"tick","orient":"horizontal","size":6,"thickness":1,"clip":true},
   "encoding":{"x":{"field":"c","type":"quantitative","axis":null},"y":{"field":"hi","type":"quantitative","axis":null},
    "color":{"field":"s","type":"nominal","scale":{"domain":["n10","n9","n8","n7","n6","L10","L9","L8","L7","L6"],"range":["#0072BD","#D95319","#EDB120","#7E2F8E","#77AC30","#1F78C4","#F05030","#FDB04B","#7B2D8E","#2EAA60"]},"legend":null}}},
  {"data":{"name":"ptC"},"mark":{"type":"point","shape":"circle","filled":false,"size":28,"strokeWidth":1,"opacity":1,"clip":true},
   "encoding":{"x":{"field":"c","type":"quantitative","axis":null},"y":{"field":"v","type":"quantitative","axis":null},
    "color":{"field":"s","type":"nominal","scale":{"domain":["n10","n9","n8","n7","n6","L10","L9","L8","L7","L6"],"range":["#0072BD","#D95319","#EDB120","#7E2F8E","#77AC30","#1F78C4","#F05030","#FDB04B","#7B2D8E","#2EAA60"]},"legend":null}}},
  {"data":{"name":"labC"},"mark":{"type":"text","align":"right","baseline":"alphabetic","font":"Lato","fontSize":20},
   "encoding":{"x":{"field":"c","type":"quantitative","axis":null},"y":{"field":"v","type":"quantitative","axis":null},"text":{"field":"txt"},
    "color":{"field":"s","type":"nominal","scale":{"domain":["n10","n9","n8","n7","n6","L10","L9","L8","L7","L6"],"range":["#0072BD","#D95319","#EDB120","#7E2F8E","#77AC30","#1F78C4","#F05030","#FDB04B","#7B2D8E","#2EAA60"]},"legend":null}}}
 ]},
{"width":109,"height":1,"data":{"values":[]},"mark":"point"},
{"width":139,"height":249,
 "resolve":{"axis":{"x":"independent","y":"independent"}},
 "layer":[
  {"data":{"name":"barD"},"mark":{"type":"bar","orient":"vertical","width":17,"color":"#0072BD","stroke":"#1a1a1a","strokeWidth":0.6},
   "encoding":{
    "x":{"field":"n","type":"quantitative","scale":{"domain":[5.52,10.54],"nice":false,"zero":false},"axis":{"orient":"bottom","values":[6,7,8,9,10],"labelExpr":"format(datum.value,'d')","labelOverlap":false,"title":["Number of Syt-SNARE","modules"],"labelFont":"Open Sans","titleFont":"Open Sans","labelFontSize":18,"titleFontSize":21,"titleLineHeight":24,"labelPadding":10,"titlePadding":5}},
    "y":{"field":"amp","type":"quantitative","scale":{"domain":[0,61.48],"nice":false,"zero":false},"axis":{"orient":"left","values":[0,10,20,30,40,50,60],"domain":false,"labelOverlap":false,"title":["Asymptotic EPSC","amplitude (nA)"],"labelFont":"Open Sans","titleFont":"Open Sans","labelFontSize":18,"titleFontSize":21,"titleLineHeight":23,"labelPadding":9}}}},
  {"data":{"values":[{"n":5.52,"amp":0,"a2":60}]},"mark":{"type":"rule","color":"#262626","strokeWidth":1},
   "encoding":{"x":{"field":"n","type":"quantitative","axis":null},"y":{"field":"amp","type":"quantitative","axis":null},"y2":{"field":"a2"}}},
  {"data":{"name":"barD"},"mark":{"type":"rule","color":"#1a1a1a","strokeWidth":1},
   "encoding":{"x":{"field":"n","type":"quantitative","axis":null},"y":{"field":"alo","type":"quantitative","axis":null},"y2":{"field":"ahi"}}},
  {"data":{"name":"barD"},"mark":{"type":"tick","orient":"horizontal","size":6,"thickness":1,"color":"#1a1a1a"},
   "encoding":{"x":{"field":"n","type":"quantitative","axis":null},"y":{"field":"alo","type":"quantitative","axis":null}}},
  {"data":{"name":"barD"},"mark":{"type":"tick","orient":"horizontal","size":6,"thickness":1,"color":"#1a1a1a"},
   "encoding":{"x":{"field":"n","type":"quantitative","axis":null},"y":{"field":"ahi","type":"quantitative","axis":null}}}
 ]},
{"width":138,"height":248,
 "resolve":{"axis":{"x":"independent","y":"independent"}},
 "layer":[
  {"data":{"name":"barD"},"mark":{"type":"bar","orient":"vertical","width":17,"color":"#0072BD","stroke":"#1a1a1a","strokeWidth":0.6},
   "encoding":{
    "x":{"field":"n","type":"quantitative","scale":{"domain":[5.52,10.54],"nice":false,"zero":false},"axis":{"orient":"bottom","values":[6,7,8,9,10],"labelExpr":"format(datum.value,'d')","labelOverlap":false,"title":["Number of Syt-SNARE","modules"],"labelFont":"Open Sans","titleFont":"Open Sans","labelFontSize":18,"titleFontSize":21,"titleLineHeight":24,"labelPadding":10,"titlePadding":5}},
    "y":{"field":"kd","type":"quantitative","scale":{"domain":[0,12.3],"nice":false,"zero":false},"axis":{"orient":"left","values":[0,2,4,6,8,10,12],"domain":false,"labelOverlap":false,"title":null,"labelFont":"Open Sans","labelFontSize":18,"labelPadding":9}}}},
  {"data":{"values":[{"n":5.52,"kd":0,"k2":12}]},"mark":{"type":"rule","color":"#262626","strokeWidth":1},
   "encoding":{"x":{"field":"n","type":"quantitative","axis":null},"y":{"field":"kd","type":"quantitative","axis":null},"y2":{"field":"k2"}}},
  {"data":{"name":"barD"},"mark":{"type":"rule","color":"#1a1a1a","strokeWidth":1},
   "encoding":{"x":{"field":"n","type":"quantitative","axis":null},"y":{"field":"klo","type":"quantitative","axis":null},"y2":{"field":"khi"}}},
  {"data":{"name":"barD"},"mark":{"type":"tick","orient":"horizontal","size":6,"thickness":1,"color":"#1a1a1a"},
   "encoding":{"x":{"field":"n","type":"quantitative","axis":null},"y":{"field":"klo","type":"quantitative","axis":null}}},
  {"data":{"name":"barD"},"mark":{"type":"tick","orient":"horizontal","size":6,"thickness":1,"color":"#1a1a1a"},
   "encoding":{"x":{"field":"n","type":"quantitative","axis":null},"y":{"field":"khi","type":"quantitative","axis":null}}},
  {"data":{"values":[{"n":3.7,"kd":2.4,"txt":"Apparent K"},{"n":3.7,"kd":8.55,"txt":"(μM)"}]},"mark":{"type":"text","angle":270,"align":"left","baseline":"middle","font":"Open Sans","fontSize":20,"color":"#262626"},
   "encoding":{"x":{"field":"n","type":"quantitative","axis":null},"y":{"field":"kd","type":"quantitative","axis":null},"text":{"field":"txt"}}},
  {"data":{"values":[{"n":3.93,"kd":7.6,"txt":"D"}]},"mark":{"type":"text","angle":270,"align":"left","baseline":"middle","font":"Open Sans","fontSize":14,"color":"#262626"},
   "encoding":{"x":{"field":"n","type":"quantitative","axis":null},"y":{"field":"kd","type":"quantitative","axis":null},"text":{"field":"txt"}}}
 ]}
]
}
